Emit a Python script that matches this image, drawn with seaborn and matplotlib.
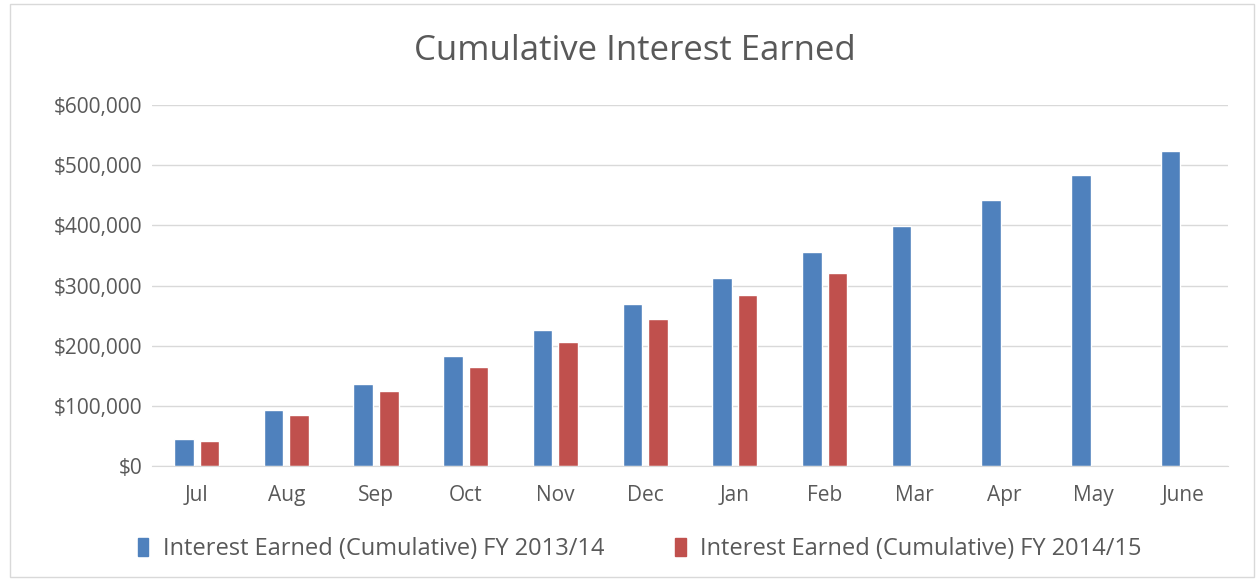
import pandas as pd
import numpy as np
import matplotlib
matplotlib.use("Agg")
import matplotlib.pyplot as plt
import seaborn as sns
from matplotlib.patches import Rectangle
from matplotlib.ticker import FuncFormatter

months = ['Jul', 'Aug', 'Sep', 'Oct', 'Nov', 'Dec', 'Jan', 'Feb', 'Mar', 'Apr', 'May', 'June']
fy1314 = [45500, 93300, 136700, 182000, 226000, 269000, 312000, 355600, 399400, 442800, 484000, 523000]
fy1415 = [41000, 85000, 124000, 165000, 206000, 245000, 284000, 321000, np.nan, np.nan, np.nan, np.nan]
series = ['Interest Earned (Cumulative) FY 2013/14', 'Interest Earned (Cumulative) FY 2014/15']
colors = ['#4F81BD', '#C0504D']

df = pd.DataFrame({'Month': months * 2,
                   'Value': fy1314 + fy1415,
                   'Series': [series[0]] * 12 + [series[1]] * 12})

sns.set_style('white')
plt.rcParams['font.family'] = ['Open Sans', 'DejaVu Sans']
text_color = '#595959'

fig = plt.figure(figsize=(12.59, 5.82), dpi=100)
ax = fig.add_axes([0.1207, 0.1993, 0.8547, 0.6203])

sns.barplot(data=df, x='Month', y='Value', hue='Series', palette=colors,
            order=months, hue_order=series, width=0.572, saturation=1,
            ax=ax, legend=False)

# leave a small gap between the paired bars
for p in ax.patches:
    w = p.get_width()
    p.set_width(w * 0.766)
    p.set_x(p.get_x() + w * 0.117)

ax.set_ylim(0, 600000)
ax.set_xlim(-0.5, 11.5)
ax.set_yticks(range(0, 600001, 100000))
ax.yaxis.set_major_formatter(FuncFormatter(lambda v, _: '${:,.0f}'.format(v)))
ax.grid(axis='y', color='#D9D9D9', linewidth=1)
ax.set_axisbelow(True)
for s in ['top', 'right', 'left']:
    ax.spines[s].set_visible(False)
ax.spines['bottom'].set_color('#D9D9D9')
ax.tick_params(axis='both', length=0, labelsize=15, colors=text_color)
ax.tick_params(axis='y', pad=7)
ax.tick_params(axis='x', pad=14)
ax.set_xlabel('')
ax.set_ylabel('')

fig.text(0.504, 0.912, 'Cumulative Interest Earned', ha='center', va='center',
         fontsize=25, color=text_color)

handles = [Rectangle((0, 0), 1, 1, color=c) for c in colors]
fig.legend(handles, series, loc='center', bbox_to_anchor=(0.508, 0.057), ncol=2,
           frameon=False, fontsize=17, labelcolor=text_color, handlelength=0.45,
           handleheight=0.8, handletextpad=0.6, columnspacing=3.0)

fig.patches.append(Rectangle((0.008, 0.008), 0.988, 0.985, transform=fig.transFigure,
                             fill=False, edgecolor='#D9D9D9', linewidth=1))

fig.savefig('out.png', dpi=100)
